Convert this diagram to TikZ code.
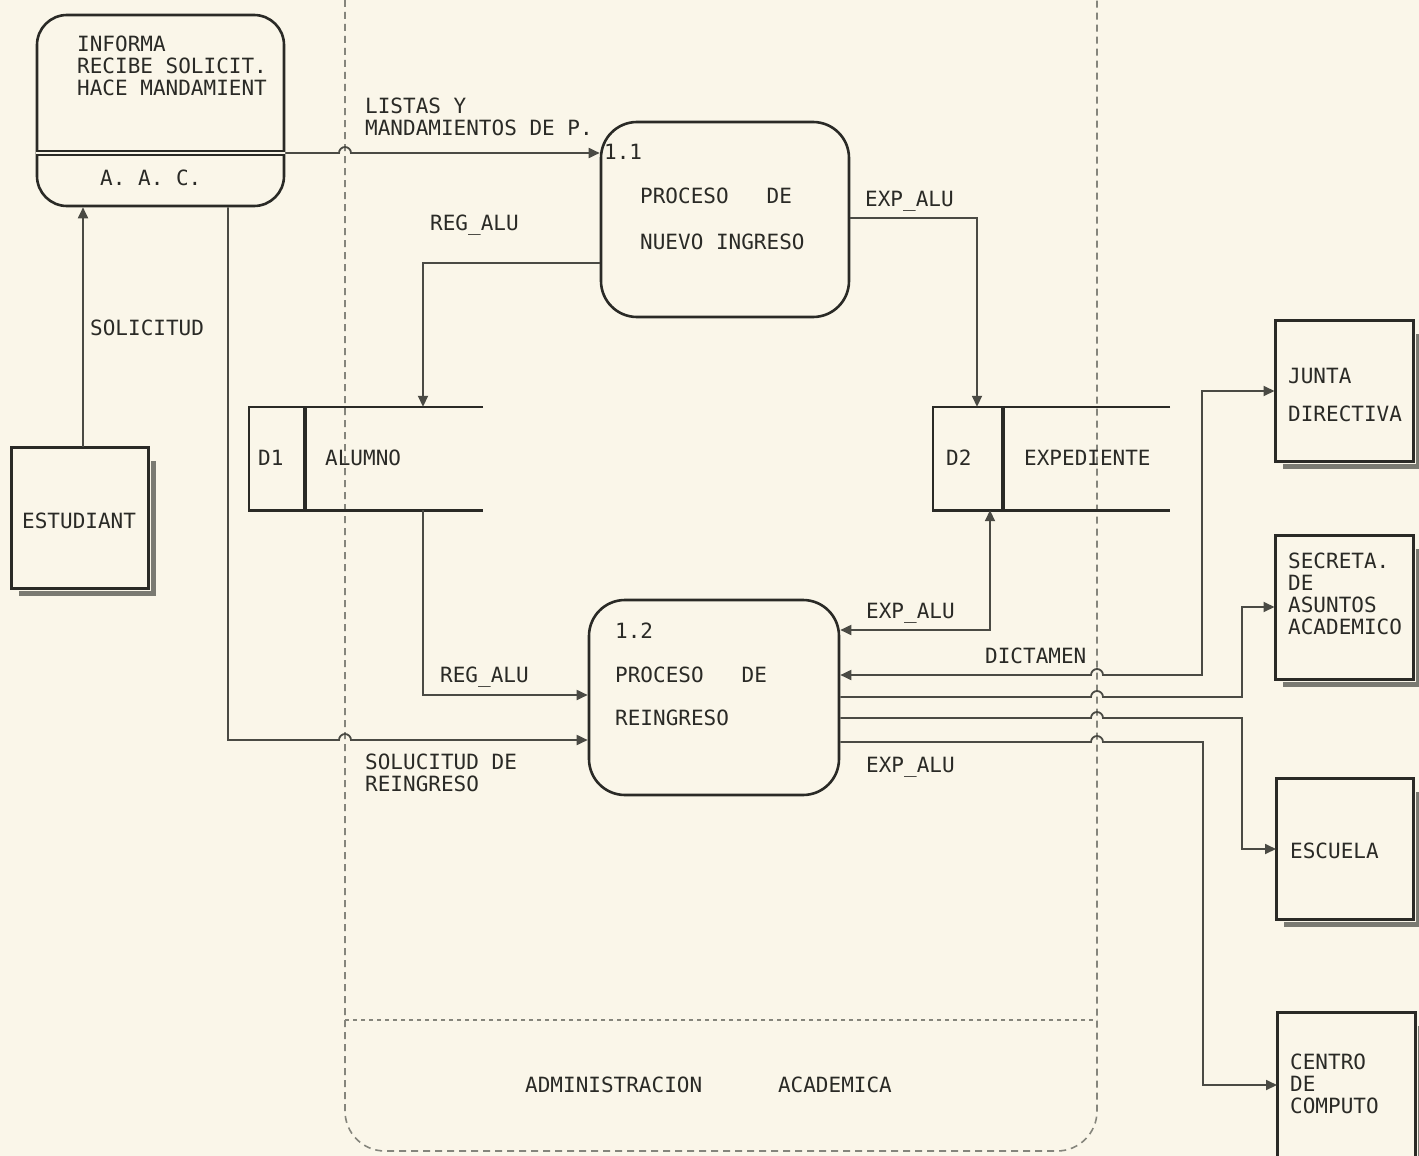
\documentclass[tikz,border=0pt]{standalone}
\usepackage{fontspec}
\setmonofont{DejaVu Sans Mono}
\usetikzlibrary{arrows.meta,calc}
\definecolor{paper}{HTML}{FAF6E9}
\definecolor{ink}{HTML}{2A2A26}
\definecolor{lin}{HTML}{4A4A44}
\definecolor{bnd}{HTML}{85857C}
\definecolor{shd}{HTML}{7A7A72}
\newcommand\dmfont{\fontsize{21}{22}\selectfont\ttfamily}
\begin{document}
\begin{tikzpicture}[x=1pt,y=-1pt,
  txt/.style={font=\dmfont, text=ink, inner sep=0pt, anchor=base west},
  proc/.style={draw=ink, line width=2.6pt, rounded corners=36pt, inner sep=0pt},
  ent/.style={draw=ink, fill=paper, line width=2pt, inner sep=0pt},
  shadowline/.style={draw=shd, line width=5pt},
  storeline/.style={draw=ink, line width=2.6pt},
  divider/.style={draw=ink, line width=4pt},
  flow/.style={draw=lin, line width=1.8pt, -{Triangle[length=11pt,width=10pt]}},
  flowboth/.style={draw=lin, line width=1.8pt, {Triangle[length=11pt,width=10pt]}-{Triangle[length=11pt,width=10pt]}},
  bound/.style={draw=bnd, line width=1.6pt, dash pattern=on 7pt off 5pt},
  bounddot/.style={draw=bnd, line width=1.6pt, dash pattern=on 4pt off 4pt},
]
\clip (0,0) rectangle (1419,1156);
\fill[paper] (0,0) rectangle (1419,1156);

% boundary of ADMINISTRACION ACADEMICA
\coordinate (bl) at (345,0);
\coordinate (br) at (1097,0);
\draw[bound, rounded corners=40pt] (bl) -- (345,1151) -- (1097,1151) -- (br);
\draw[bounddot] (345,1020) -- (1097,1020);
\node[txt] (tadm) at (525,1092.5) {ADMINISTRACION~~~~~~ACADEMICA};

% A.A.C.
\node[proc, rounded corners=30pt, minimum width=247pt, minimum height=191pt] (aac) at (160.5,110.5) {};
\coordinate (sepc) at (0,153);
\draw[draw=ink, double=paper, double distance=2pt, line width=2pt] (aac.west |- sepc) -- (aac.east |- sepc);
\node[txt] (taac1) at (77,51.5) {INFORMA};
\node[txt] (taac2) at (77,73.5) {RECIBE SOLICIT.};
\node[txt] (taac3) at (77,95.5) {HACE MANDAMIENT};
\node[txt] (taac4) at (100,185.5) {A. A. C.};

% processes
\node[proc, minimum width=248pt, minimum height=195pt] (p11) at (725,219.5) {};
\node[txt] (tp11a) at (604,159.5) {1.1};
\node[txt] (tp11b) at (640,203.5) {PROCESO~~~DE};
\node[txt] (tp11c) at (640,249.5) {NUEVO INGRESO};

\node[proc, minimum width=250pt, minimum height=195pt] (p12) at (714,697.5) {};
\node[txt] (tp12a) at (615,638.5) {1.2};
\node[txt] (tp12b) at (615,682.5) {PROCESO~~~DE};
\node[txt] (tp12c) at (615,725.5) {REINGRESO};

% data stores
\node[inner sep=0pt, minimum width=234pt, minimum height=103pt] (d1) at (366,458.5) {};
\draw[storeline] (d1.north east) -- (d1.north west) -- (d1.south west) -- (d1.south east);
\draw[divider] (d1.north -| 305,0) -- (d1.south -| 305,0);
\node[txt] (td1a) at (258,465.5) {D1};
\node[txt] (td1b) at (325,465.5) {ALUMNO};

\node[inner sep=0pt, minimum width=237pt, minimum height=103pt] (d2) at (1051.5,458.5) {};
\draw[storeline] (d2.north east) -- (d2.north west) -- (d2.south west) -- (d2.south east);
\draw[divider] (d2.north -| 1003,0) -- (d2.south -| 1003,0);
\node[txt] (td2a) at (946,465.5) {D2};
\node[txt] (td2b) at (1024,465.5) {EXPEDIENTE};

% external entities
\node[ent, minimum width=136pt, minimum height=140pt] (est) at (80,518) {};
\node[ent, minimum width=137pt, minimum height=140pt] (junta) at (1344,391) {};
\node[ent, minimum width=137pt, minimum height=143pt] (secr) at (1344,607) {};
\node[ent, minimum width=136pt, minimum height=140pt] (esc) at (1345,849) {};
\node[ent, minimum width=137pt, minimum height=144pt] (centro) at (1346.5,1085) {};
\foreach \e in {est,junta,secr,esc,centro}{
  \draw[shadowline] ([xshift=4.5pt,yshift=-14pt]\e.north east) -- ([xshift=4.5pt,yshift=-4.5pt]\e.south east) -- ([xshift=8pt,yshift=-4.5pt]\e.south west);
  \draw[draw=ink, line width=2pt] (\e.north west) rectangle (\e.south east);
}
\node[txt] (test) at (22,528.5) {ESTUDIANT};
\node[txt] (tj1) at (1288,383.5) {JUNTA};
\node[txt] (tj2) at (1288,421.5) {DIRECTIVA};
\node[txt] (ts1) at (1288,568.5) {SECRETA.};
\node[txt] (ts2) at (1288,590.5) {DE};
\node[txt] (ts3) at (1288,612.5) {ASUNTOS};
\node[txt] (ts4) at (1288,634.5) {ACADEMICO};
\node[txt] (tesc) at (1290,858.5) {ESCUELA};
\node[txt] (tc1) at (1290,1069.5) {CENTRO};
\node[txt] (tc2) at (1290,1091.5) {DE};
\node[txt] (tc3) at (1290,1113.5) {COMPUTO};

% flows
\draw[flow] (est.north -| 83,0) -- (aac.south -| 83,0);
\node[txt] (lsol) at (90,335.5) {SOLICITUD};

\draw[flow] (aac.east |- sepc) -- ($(bl |- sepc)+(-6,0)$) arc[start angle=180,end angle=0,radius=6pt] -- (p11.west |- sepc);
\node[txt] (llis1) at (365,113.5) {LISTAS Y};
\node[txt] (llis2) at (365,135.5) {MANDAMIENTOS DE P.};

\draw[flow] (aac.south -| 228,0) |- ($(bl |- 0,740)+(-6,0)$) arc[start angle=180,end angle=0,radius=6pt] -- (p12.west |- 0,740);
\node[txt] (lsr1) at (365,769.5) {SOLUCITUD DE};
\node[txt] (lsr2) at (365,791.5) {REINGRESO};

\draw[flow] (p11.west |- 0,263) -| (d1.north -| 423,0);
\node[txt] (lreg1) at (430,230.5) {REG\_ALU};

\draw[flow] (d1.south -| 423,0) |- (p12.west |- 0,695);
\node[txt] (lreg2) at (440,682.5) {REG\_ALU};

\draw[flow] (p11.east |- 0,218) -| (d2.north -| 977,0);
\node[txt] (lexp1) at (865,206.5) {EXP\_ALU};

\draw[flowboth] (d2.south -| 990,0) |- (p12.east |- 0,630);
\node[txt] (lexp2) at (866,618.5) {EXP\_ALU};

\draw[flowboth] (p12.east |- 0,675) -- ($(br |- 0,675)+(-6,0)$) arc[start angle=180,end angle=0,radius=6pt] -- (1202,675) |- (junta.west);
\node[txt] (ldic) at (985,663.5) {DICTAMEN};

\draw[flow] (p12.east |- 0,697) -- ($(br |- 0,697)+(-6,0)$) arc[start angle=180,end angle=0,radius=6pt] -- (1242,697) |- (secr.west);
\draw[flow] (p12.east |- 0,718) -- ($(br |- 0,718)+(-6,0)$) arc[start angle=180,end angle=0,radius=6pt] -- (1242,718) |- (esc.west);
\draw[flow] (p12.east |- 0,742) -- ($(br |- 0,742)+(-6,0)$) arc[start angle=180,end angle=0,radius=6pt] -- (1203,742) |- (centro.west);
\node[txt] (lexp3) at (866,772.5) {EXP\_ALU};
\end{tikzpicture}
\end{document}
